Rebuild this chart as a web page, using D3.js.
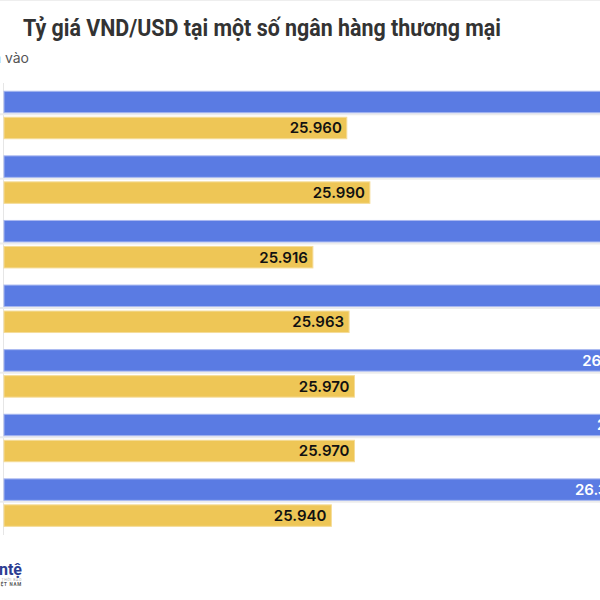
<!DOCTYPE html>
<html>
<head>
<meta charset="utf-8">
<script src="https://cdn.jsdelivr.net/npm/d3@7"></script>
<style>
  body { margin: 0; background: #fff; }
  svg { display: block; }
</style>
</head>
<body>
<div id="chart-area"></div>
<script>
// Data (bank names are cropped out of the picture)
var banks = ["NH1", "NH2", "NH3", "NH4", "NH5", "NH6", "NH7"];
var banRa = [26370, 26380, 26376, 26373, 26340, 26358, 26330];
var muaVao = [25960, 25990, 25916, 25963, 25970, 25970, 25940];
var seriesKeys = ["ban", "mua"];
var seriesColors = ["#5a7be3", "#eec656"];

var data = banks.map((b, i) => ({ bank: b, ban: banRa[i], mua: muaVao[i] }));

var width = 600;
var height = 600;

var svg = d3.select("#chart-area")
    .append("svg")
    .attr("width", width)
    .attr("height", height);

// faint frame line at the top
svg.append("line")
    .attr("x1", 0).attr("x2", width)
    .attr("y1", 0.5).attr("y2", 0.5)
    .attr("stroke", "#eeeeee");

// TITLE
svg.append("text")
    .attr("x", 23)
    .attr("y", 35.5)
    .attr("textLength", 478)
    .attr("lengthAdjust", "spacingAndGlyphs")
    .attr("font-family", "Roboto, sans-serif")
    .attr("font-weight", 700)
    .attr("font-size", "23.5px")
    .style("fill", "#333333")
    .text("Tỷ giá VND/USD tại một số ngân hàng thương mại");

// subtitle (cut at left edge in the picture)
svg.append("text")
    .attr("x", 29)
    .attr("y", 63)
    .attr("text-anchor", "end")
    .attr("font-family", "Inter, sans-serif")
    .attr("font-size", "14px")
    .style("fill", "#555555")
    .text("Mua vào");

// SCALES
var x = d3.scaleLinear()
    .domain([25515, 26400])
    .range([4, 4 + 885 * 0.7703]);

var y = d3.scaleBand()
    .domain(banks)
    .range([82.7, 534.9])
    .paddingInner(0.265)
    .paddingOuter(0.1325);

var ySub = d3.scaleBand()
    .domain(seriesKeys)
    .range([0, y.bandwidth()])
    .paddingInner(0.173);

var color = d3.scaleOrdinal()
    .domain(seriesKeys)
    .range(seriesColors);

// baseline
svg.append("line")
    .attr("x1", 3.5).attr("x2", 3.5)
    .attr("y1", 83).attr("y2", 535)
    .attr("stroke", "#e6e6e6");

var groups = svg.selectAll("g.bank")
    .data(data)
    .enter()
    .append("g")
    .attr("class", "bank")
    .attr("transform", (d) => "translate(0, " + y(d.bank) + ")");

// light separator under the blue bar
groups.append("line")
    .attr("x1", 0).attr("x2", width)
    .attr("y1", ySub("ban") + ySub.bandwidth() + 1.5)
    .attr("y2", ySub("ban") + ySub.bandwidth() + 1.5)
    .attr("stroke", "#ececec")
    .attr("stroke-width", 2);

groups.selectAll("rect")
    .data((d) => seriesKeys.map((k) => ({ key: k, value: d[k] })))
    .enter()
    .append("rect")
    .attr("x", x(25515))
    .attr("y", (d) => ySub(d.key))
    .attr("width", (d) => x(d.value) - x(25515))
    .attr("height", ySub.bandwidth())
    .attr("fill", (d) => color(d.key))
    .attr("stroke", (d) => d.key == "ban" ? "#a8b8f0" : "#f5dc98")
    .attr("stroke-width", 1);

// value labels with halo
groups.selectAll("text.val")
    .data((d) => seriesKeys.map((k) => ({ key: k, value: d[k] })))
    .enter()
    .append("text")
    .attr("class", "val")
    .attr("x", (d) => x(d.value) - 5)
    .attr("y", (d) => ySub(d.key) + ySub.bandwidth() / 2 + 5.5)
    .attr("text-anchor", "end")
    .attr("font-family", "Inter, sans-serif")
    .attr("font-weight", 600)
    .attr("font-size", "15px")
    .attr("paint-order", "stroke")
    .attr("stroke", (d) => color(d.key))
    .attr("stroke-width", 3)
    .attr("stroke-linejoin", "round")
    .style("fill", (d) => d.key == "ban" ? "#ffffff" : "#111111")
    .text((d) => d3.format(",")(d.value).replace(",", "."));

// logo (cut at left edge)
svg.append("text")
    .attr("x", 22)
    .attr("y", 575)
    .attr("text-anchor", "end")
    .attr("font-family", "Roboto, sans-serif")
    .attr("font-weight", 700)
    .attr("font-size", "16px")
    .style("fill", "#2c3d92")
    .text("Tiềntệ");

svg.append("text")
    .attr("x", 22)
    .attr("y", 581)
    .attr("text-anchor", "end")
    .attr("font-family", "Roboto, sans-serif")
    .attr("font-size", "3.5px")
    .attr("letter-spacing", "0.6px")
    .style("fill", "#aaaaaa")
    .text("THỜI BÁO");

svg.append("text")
    .attr("x", 22)
    .attr("y", 586)
    .attr("text-anchor", "end")
    .attr("font-family", "Roboto, sans-serif")
    .attr("font-weight", 700)
    .attr("font-size", "4.5px")
    .attr("letter-spacing", "0.8px")
    .style("fill", "#555555")
    .text("VIỆT NAM");
</script>
</body>
</html>
